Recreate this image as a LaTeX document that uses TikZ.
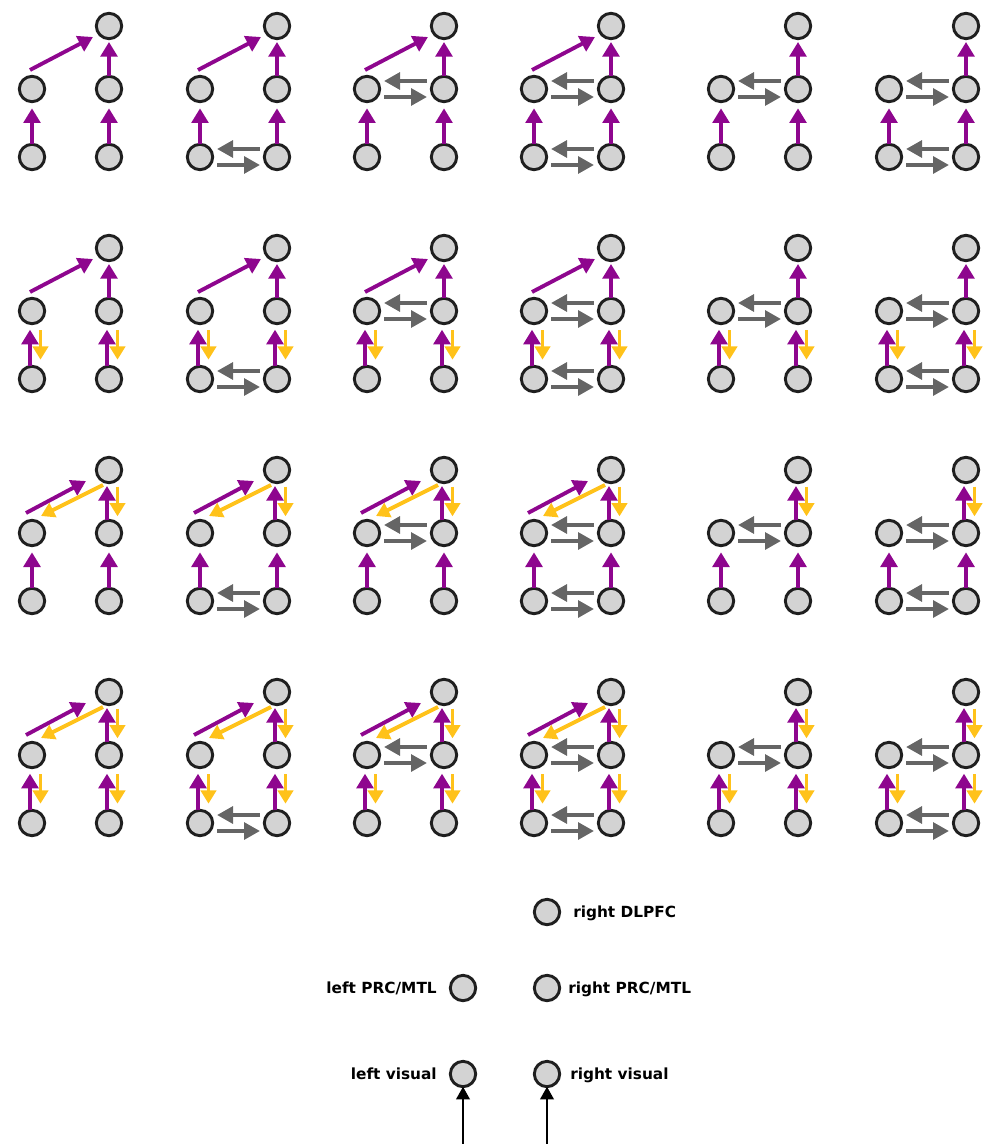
\documentclass[tikz,border=0pt]{standalone}
\usepackage{fontspec}
\setsansfont{DejaVu Sans}
\usetikzlibrary{arrows.meta,shadows}
\definecolor{purp}{HTML}{8E068E}
\definecolor{gold}{HTML}{FFC21A}
\definecolor{garrow}{HTML}{656565}
\definecolor{roifill}{HTML}{D3D3D3}
\begin{document}
\begin{tikzpicture}[x=0.75pt,y=-0.75pt,
  roi/.style={circle, draw=black!88, line width=2.2pt, fill=roifill, minimum size=19pt,
    inner sep=0pt, outer sep=0pt,
    drop shadow={shadow xshift=0.6pt, shadow yshift=-0.9pt, opacity=0.2}},
  fwd/.style={draw=purp, line width=2.9pt, -{Triangle[width=12.5pt,length=11pt]}},
  fbk/.style={draw=gold, line width=2.9pt, -{Triangle[width=11.5pt,length=10pt]}},
  lat/.style={draw=garrow, line width=3.6pt, -{Triangle[width=12.5pt,length=12pt]}},
  inp/.style={draw=black, line width=2pt, -{Triangle[width=10pt,length=9.5pt]}},
  lbl/.style={font=\sffamily\bfseries\fontsize{11.5}{13}\selectfont, inner sep=0pt}]
\useasboundingbox (0,0) rectangle (984,1144);
\foreach \c/\x/\dg/\ml/\bl in {1/32/1/0/0,2/200/1/0/1,3/367/1/1/0,4/534/1/1/1,5/721/0/1/0,6/889/0/1/1}{
  \foreach \r/\y/\fb/\ft in {1/26/0/0,2/248/1/0,3/470/0/1,4/692/1/1}{
    \node[roi] (t\r\c) at (\x+77,\y) {};
    \node[roi] (lm\r\c) at (\x,\y+63) {};
    \node[roi] (rm\r\c) at (\x+77,\y+63) {};
    \node[roi] (lb\r\c) at (\x,\y+131) {};
    \node[roi] (rb\r\c) at (\x+77,\y+131) {};
    % visual -> PRC/MTL
    \ifnum\fb=1
      \draw[fwd, shorten >=4.5pt] ([shift={(-2,0)}]lb\r\c.north) -- ([shift={(-2,0)}]lm\r\c.south);
      \draw[fwd, shorten >=4.5pt] ([shift={(-2,0)}]rb\r\c.north) -- ([shift={(-2,0)}]rm\r\c.south);
      \draw[fbk, shorten <=5pt, shorten >=5pt] ([shift={(8.5,0)}]lm\r\c.south) -- ([shift={(8.5,0)}]lb\r\c.north);
      \draw[fbk, shorten <=5pt, shorten >=5pt] ([shift={(8.5,0)}]rm\r\c.south) -- ([shift={(8.5,0)}]rb\r\c.north);
    \else
      \draw[fwd, shorten >=5pt] (lb\r\c.north) -- (lm\r\c.south);
      \draw[fwd, shorten >=5pt] (rb\r\c.north) -- (rm\r\c.south);
    \fi
    % right PRC/MTL -> DLPFC
    \ifnum\ft=1
      \draw[fwd, shorten >=2.5pt] ([shift={(-2,0)}]rm\r\c.north) -- ([shift={(-2,0)}]t\r\c.south);
      \draw[fbk, shorten <=3pt, shorten >=3pt] ([shift={(8.5,0)}]t\r\c.south) -- ([shift={(8.5,0)}]rm\r\c.north);
    \else
      \draw[fwd, shorten >=2.5pt] (rm\r\c.north) -- (t\r\c.south);
    \fi
    % left PRC/MTL -> DLPFC
    \ifnum\dg=1
      \ifnum\ft=1
        \draw[fwd] ([shift={(-6,-20)}]lm\r\c.center) -- ([shift={(-23,11)}]t\r\c.center);
        \draw[fbk] ([shift={(-6,15)}]t\r\c.center) -- ([shift={(9,-17)}]lm\r\c.center);
      \else
        \draw[fwd] ([shift={(-2,-19)}]lm\r\c.center) -- ([shift={(-16,11)}]t\r\c.center);
      \fi
    \fi
    % lateral connections
    \ifnum\ml=1
      \draw[lat] ([shift={(-17,-8)}]rm\r\c.center) -- ([shift={(17,-8)}]lm\r\c.center);
      \draw[lat] ([shift={(17,8)}]lm\r\c.center) -- ([shift={(-17,8)}]rm\r\c.center);
    \fi
    \ifnum\bl=1
      \draw[lat] ([shift={(-17,-8)}]rb\r\c.center) -- ([shift={(17,-8)}]lb\r\c.center);
      \draw[lat] ([shift={(17,8)}]lb\r\c.center) -- ([shift={(-17,8)}]rb\r\c.center);
    \fi
  }
}
% legend
\node[roi] (dl) at (547,912) {};
\node[roi] (lp) at (463,988) {};
\node[roi] (rp) at (547,988) {};
\node[roi] (lv) at (463,1074) {};
\node[roi] (rv) at (547,1074) {};
\node[lbl, anchor=base west] (dlt) at (573,917.5) {right DLPFC};
\node[lbl, anchor=base east] (lpt) at (437,993.5) {left PRC/MTL};
\node[lbl, anchor=base west] (rpt) at (568,993.5) {right PRC/MTL};
\node[lbl, anchor=base east] (lvt) at (437,1079.5) {left visual};
\node[lbl, anchor=base west] (rvt) at (570,1079.5) {right visual};
\coordinate (inl) at (463,1144);
\coordinate (inr) at (547,1144);
\draw[inp] (inl) -- (lv.south);
\draw[inp] (inr) -- (rv.south);
\end{tikzpicture}
\end{document}
